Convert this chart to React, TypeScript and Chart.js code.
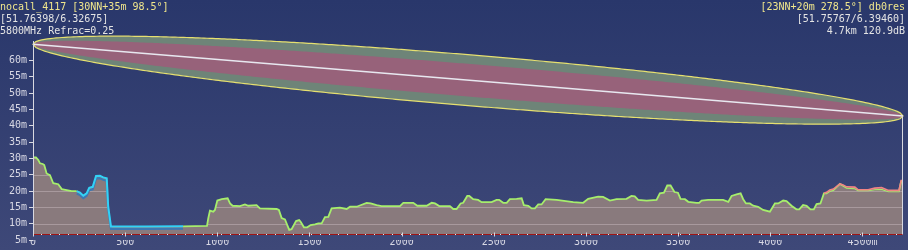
import React, { useEffect, useRef } from "react";
import { Chart, registerables } from "chart.js";

Chart.register(...registerables);

const FONT = '"DejaVu Sans Mono", monospace';

// Header texts
const headerLeft = ["nocall_4117 [30NN+35m 98.5°]", "[51.76398/6.32675]", "5800MHz Refrac=0.25"];
const headerRight = ["[23NN+20m 278.5°] db0res", "[51.75767/6.39460]", "4.7km 120.9dB"];

// Link parameters
const FREQ_MHZ = 5800;
const LINK_DIST = 4720; // m
const SITE_A_GROUND = 30;
const SITE_A_ANT = 35;
const SITE_B_GROUND = 23;
const SITE_B_ANT = 20;
const INNER_ZONE = 0.64;
const FLOOR = 6.8; // profile floor (m)

// Axes
const Y_MIN = 5;
const Y_MAX = 66;
const yTickValues = [5, 10, 15, 20, 25, 30, 35, 40, 45, 50, 55, 60];
const xTickValues = [0, 500, 1000, 1500, 2000, 2500, 3000, 3500, 4000, 4500];

// Terrain profile (visible top surface): [distance m, height m]
const terrainProfile: [number, number][] = [
  [0, 30.3], [16, 30.3], [29, 29.5], [38, 28.5], [53, 28.3], [61, 28.0], [74, 25.4], [92, 24.9],
  [110, 22.4], [137, 22.1], [156, 20.6], [183, 20.3], [210, 20.0], [237, 20.0], [255, 19.5],
  [273, 18.6], [291, 19.3], [305, 21.0], [324, 21.3], [342, 24.6], [363, 24.7], [381, 24.2],
  [400, 23.9], [408, 15.2], [423, 9.1], [472, 9.1], [580, 9.1], [613, 9.1], [814, 9.2],
  [944, 9.3], [951, 11.7], [960, 14.0], [978, 13.7], [987, 14.2], [1000, 17.1], [1024, 17.5],
  [1056, 17.8], [1069, 16.2], [1083, 15.5], [1123, 15.4], [1150, 15.9], [1168, 15.5],
  [1213, 15.7], [1231, 14.7], [1322, 14.5], [1334, 14.2], [1349, 11.7], [1367, 11.3],
  [1390, 8.1], [1403, 8.3], [1427, 10.8], [1444, 11.1], [1452, 10.6], [1470, 8.9], [1488, 8.9],
  [1506, 9.6], [1530, 9.8], [1548, 10.1], [1566, 10.1], [1584, 12.0], [1602, 12.1],
  [1620, 14.7], [1665, 14.9], [1702, 14.5], [1720, 15.2], [1756, 15.2], [1810, 16.4],
  [1832, 16.2], [1864, 15.7], [1891, 15.4], [1991, 15.4], [2009, 16.4], [2063, 16.4],
  [2085, 15.5], [2136, 15.5], [2163, 16.4], [2181, 16.2], [2204, 15.4], [2262, 15.4],
  [2280, 14.5], [2298, 14.5], [2320, 16.2], [2334, 16.4], [2356, 18.5], [2367, 18.5],
  [2388, 17.5], [2415, 17.3], [2434, 16.6], [2488, 16.6], [2515, 17.3], [2529, 17.3],
  [2551, 16.4], [2570, 16.4], [2587, 17.5], [2624, 17.6], [2651, 17.8], [2663, 15.7],
  [2687, 15.5], [2705, 14.7], [2723, 14.7], [2741, 15.9], [2759, 15.9], [2781, 17.5],
  [2841, 17.3], [2931, 16.6], [2985, 16.4], [3012, 17.6], [3066, 18.3], [3093, 18.2],
  [3130, 17.1], [3166, 17.5], [3220, 17.6], [3247, 18.5], [3265, 18.4], [3283, 17.3],
  [3329, 17.1], [3383, 17.3], [3401, 19.3], [3423, 19.5], [3441, 21.7], [3459, 21.7],
  [3480, 19.7], [3499, 19.5], [3513, 17.6], [3537, 17.5], [3555, 16.7], [3600, 16.4],
  [3614, 16.4], [3627, 17.1], [3663, 17.3], [3744, 17.3], [3772, 16.7], [3790, 18.5],
  [3817, 19.0], [3839, 19.3], [3853, 17.5], [3868, 16.2], [3889, 16.2], [3907, 15.5],
  [3934, 15.2], [3961, 14.2], [3998, 13.7], [4025, 16.2], [4043, 16.2], [4070, 17.1],
  [4088, 16.9], [4115, 15.5], [4142, 14.4], [4157, 14.4], [4178, 15.7], [4197, 15.5],
  [4218, 14.4], [4236, 14.4], [4251, 16.0], [4272, 16.2], [4291, 19.3], [4305, 19.3],
  [4323, 20.0], [4342, 20.3], [4378, 22.2], [4395, 21.6], [4414, 21.0], [4459, 20.8],
  [4477, 20.2], [4531, 20.2], [4567, 20.5], [4604, 20.6], [4641, 19.9], [4698, 19.9],
  [4710, 23.0], [4720, 23.0],
];

// Obstruction profile near site A (cyan)
const obstacleAProfile: [number, number][] = [
  [237, 20.0], [255, 19.5], [273, 18.6], [291, 19.3], [305, 21.0], [324, 21.3], [342, 24.6],
  [363, 24.7], [381, 24.2], [400, 23.9], [408, 15.2], [423, 9.1], [472, 9.1], [580, 9.1],
  [613, 9.1], [814, 9.2],
];

// Obstruction profile near site B (pink)
const obstacleBProfile: [number, number][] = [
  [4291, 19.3], [4305, 19.6], [4323, 20.3], [4342, 20.6], [4378, 22.2], [4395, 21.9],
  [4414, 21.3], [4459, 21.2], [4477, 20.4], [4531, 20.4], [4567, 20.9], [4604, 21.1],
  [4641, 20.2], [4698, 20.2], [4710, 23.2], [4720, 23.2],
];

const C = {
  bgTop: "#29376b",
  bgBottom: "#3e4878",
  yellowText: "#f0e68c",
  whiteText: "#e4e4e4",
  axisText: "#d8d8e4",
  axisLine: "#d8d8e0",
  terrainFill: "#897a7d",
  terrainLine: "#a6ee6c",
  grid: "#a8999d",
  cyan: "#32d2f6",
  cyanShade: "#3c78b4",
  pink: "#f08484",
  zoneOuter: "#6e8478",
  zoneInner: "#97627a",
  zoneEdge: "#e6e070",
  los: "#e8e8f0",
  floorRed: "#a01414",
};

const toXY = (p: [number, number][]) => p.map(([x, y]) => ({ x, y }));

const obstacleAStart = obstacleAProfile[0][0];
const obstacleAEnd = obstacleAProfile[obstacleAProfile.length - 1][0];

// dataset indices
const DS_FILL = 0;
const DS_LINE = 1;
const DS_CYAN = 2;

const profilePlugin = {
  id: "profileDecor",
  beforeDatasetDraw(chart: any, args: any) {
    if (args.index === DS_CYAN) {
      const ctx = chart.ctx;
      ctx.save();
      ctx.shadowColor = C.cyanShade;
      ctx.shadowOffsetX = 0;
      ctx.shadowOffsetY = 2.5;
      ctx.shadowBlur = 0;
    }
  },
  afterDatasetDraw(chart: any, args: any) {
    const { ctx, chartArea: ca, scales } = chart;
    if (args.index === DS_CYAN) {
      ctx.restore();
      return;
    }
    if (args.index !== DS_FILL) return;
    // grid lines, only inside the terrain area
    const ys = scales.y;
    const pts = args.meta.data;
    if (!pts.length) return;
    const floorY = ys.getPixelForValue(FLOOR);
    ctx.save();
    ctx.beginPath();
    pts.forEach((p: any, i: number) => (i ? ctx.lineTo(p.x, p.y) : ctx.moveTo(p.x, p.y)));
    ctx.lineTo(pts[pts.length - 1].x, floorY);
    ctx.lineTo(pts[0].x, floorY);
    ctx.closePath();
    ctx.clip();
    ctx.strokeStyle = C.grid;
    ctx.lineWidth = 1;
    ctx.beginPath();
    ys.ticks.forEach((t: any) => {
      const py = Math.round(ys.getPixelForValue(t.value)) + 0.5;
      ctx.moveTo(ca.left, py);
      ctx.lineTo(ca.right, py);
    });
    ctx.stroke();
    ctx.restore();
  },
  afterDatasetsDraw(chart: any) {
    const { ctx, chartArea: ca, scales } = chart;
    const xs = scales.x;
    const ys = scales.y;
    const hA = SITE_A_GROUND + SITE_A_ANT;
    const hB = SITE_B_GROUND + SITE_B_ANT;
    const lambda = 299.792458 / FREQ_MHZ;
    const N = 300;
    const zone = (k: number) => {
      ctx.beginPath();
      for (let i = 0; i <= N; i++) {
        const t = i / N;
        const d = t * LINK_DIST;
        const r = k * Math.sqrt((lambda * d * (LINK_DIST - d)) / LINK_DIST);
        const hc = hA + (hB - hA) * t;
        const px = xs.getPixelForValue(d);
        const py = ys.getPixelForValue(hc + r);
        i ? ctx.lineTo(px, py) : ctx.moveTo(px, py);
      }
      for (let i = N; i >= 0; i--) {
        const t = i / N;
        const d = t * LINK_DIST;
        const r = k * Math.sqrt((lambda * d * (LINK_DIST - d)) / LINK_DIST);
        const hc = hA + (hB - hA) * t;
        ctx.lineTo(xs.getPixelForValue(d), ys.getPixelForValue(hc - r));
      }
      ctx.closePath();
    };
    ctx.save();
    zone(1);
    ctx.fillStyle = C.zoneOuter;
    ctx.fill();
    zone(INNER_ZONE);
    ctx.fillStyle = C.zoneInner;
    ctx.fill();
    zone(1);
    ctx.strokeStyle = C.zoneEdge;
    ctx.lineWidth = 1.2;
    ctx.stroke();

    // line of sight
    ctx.beginPath();
    ctx.moveTo(xs.getPixelForValue(0), ys.getPixelForValue(hA));
    ctx.lineTo(xs.getPixelForValue(LINK_DIST), ys.getPixelForValue(hB));
    ctx.strokeStyle = C.los;
    ctx.lineWidth = 1.5;
    ctx.stroke();

    const floorY = Math.round(ys.getPixelForValue(FLOOR)) + 0.5;
    // masts / axis
    const xa = Math.round(xs.getPixelForValue(0)) + 0.5;
    const xb = Math.round(xs.getPixelForValue(LINK_DIST)) - 0.5;
    ctx.beginPath();
    ctx.moveTo(xa, ca.top);
    ctx.lineTo(xa, floorY);
    ctx.moveTo(xb, ys.getPixelForValue(hB));
    ctx.lineTo(xb, floorY);
    ctx.strokeStyle = C.axisLine;
    ctx.lineWidth = 1;
    ctx.stroke();

    // floor line
    ctx.beginPath();
    ctx.moveTo(ca.left, floorY);
    ctx.lineTo(xb, floorY);
    ctx.strokeStyle = "#e8e8e8";
    ctx.stroke();
    ctx.setLineDash([8, 1]);
    ctx.beginPath();
    ctx.moveTo(ca.left, floorY);
    ctx.lineTo(xb, floorY);
    ctx.strokeStyle = C.floorRed;
    ctx.stroke();
    ctx.setLineDash([]);

    // x tick marks
    ctx.beginPath();
    xs.ticks.forEach((t: any) => {
      const px = Math.round(xs.getPixelForValue(t.value)) + 0.5;
      ctx.moveTo(px, floorY - 2);
      ctx.lineTo(px, floorY + 2);
    });
    ctx.strokeStyle = C.axisLine;
    ctx.stroke();
    ctx.restore();
  },
};

function makeConfig(): any {
  return {
    type: "line",
    data: {
      datasets: [
        {
          label: "terrain area",
          data: toXY(terrainProfile),
          borderWidth: 0,
          borderColor: "rgba(0,0,0,0)",
          backgroundColor: C.terrainFill,
          fill: { value: FLOOR },
          pointRadius: 0,
          order: 4,
        },
        {
          label: "terrain",
          data: toXY(terrainProfile),
          borderColor: C.terrainLine,
          borderWidth: 1.8,
          fill: false,
          pointRadius: 0,
          order: 3,
          segment: {
            borderColor: (c: any) =>
              c.p0.parsed.x >= obstacleAStart && c.p1.parsed.x <= obstacleAEnd ? "rgba(0,0,0,0)" : undefined,
          },
        },
        {
          label: "obstacleA",
          data: toXY(obstacleAProfile),
          borderColor: C.cyan,
          borderWidth: 2,
          fill: false,
          pointRadius: 0,
          order: 1,
        },
        {
          label: "obstacleB",
          data: toXY(obstacleBProfile),
          borderColor: C.pink,
          borderWidth: 1.6,
          fill: { target: DS_FILL, above: C.terrainFill, below: "rgba(0,0,0,0)" },
          pointRadius: 0,
          order: 0,
        },
      ],
    },
    options: {
      animation: false,
      responsive: false,
      maintainAspectRatio: false,
      devicePixelRatio: 1,
      layout: { padding: { top: 41, right: 5, left: 0, bottom: 0 } },
      plugins: { legend: { display: false }, tooltip: { enabled: false }, title: { display: false } },
      elements: { line: { tension: 0 }, point: { radius: 0 } },
      scales: {
        x: {
          type: "linear",
          min: 0,
          max: LINK_DIST,
          border: { display: false },
          grid: { display: false, drawTicks: false },
          ticks: {
            autoSkip: false,
            maxRotation: 0,
            padding: -4,
            color: C.axisText,
            font: { family: FONT, size: 10 },
            callback: (v: number) => (v === xTickValues[xTickValues.length - 1] ? `${v}m` : `${v}`),
          },
          afterBuildTicks: (s: any) => {
            s.ticks = xTickValues.map((value) => ({ value }));
          },
          afterFit: (s: any) => {
            s.height = 10;
          },
        },
        y: {
          type: "linear",
          min: Y_MIN,
          max: Y_MAX,
          border: { display: false },
          grid: { drawOnChartArea: false, drawTicks: true, tickLength: 4, tickColor: C.axisLine, color: C.axisLine },
          ticks: {
            autoSkip: false,
            padding: 2,
            color: C.axisText,
            font: { family: FONT, size: 10 },
            callback: (v: number) => `${v}m`,
          },
          afterBuildTicks: (s: any) => {
            s.ticks = yTickValues.map((value) => ({ value }));
          },
          afterFit: (s: any) => {
            s.width = 33;
          },
        },
      },
    },
    plugins: [profilePlugin],
  };
}

export default function App() {
  const ref = useRef<HTMLCanvasElement>(null);
  useEffect(() => {
    if (!ref.current) return;
    const chart = new Chart(ref.current, makeConfig());
    return () => chart.destroy();
  }, []);
  const lineStyle = (i: number, side: "left" | "right"): React.CSSProperties => ({
    position: "absolute",
    top: i * 12,
    [side]: side === "left" ? 0 : 3,
    height: 14,
    fontFamily: FONT,
    fontSize: 10,
    lineHeight: "14px",
    whiteSpace: "pre",
    textAlign: side,
    color: i === 0 ? C.yellowText : C.whiteText,
  });
  return (
    <div
      style={{
        position: "fixed",
        left: 0,
        top: 0,
        width: 908,
        height: 250,
        overflow: "hidden",
        background: `linear-gradient(to bottom, ${C.bgTop}, ${C.bgBottom})`,
      }}
    >
      <canvas ref={ref} width={908} height={250} style={{ position: "absolute", left: 0, top: 0, width: 908, height: 250 }} />
      {headerLeft.map((t, i) => (
        <div key={"l" + i} style={lineStyle(i, "left")}>{t}</div>
      ))}
      {headerRight.map((t, i) => (
        <div key={"r" + i} style={lineStyle(i, "right")}>{t}</div>
      ))}
    </div>
  );
}
